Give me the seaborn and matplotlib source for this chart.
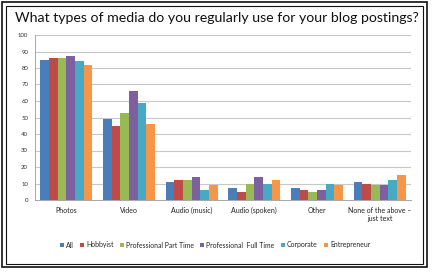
import matplotlib
matplotlib.use("Agg")
import matplotlib.pyplot as plt
from matplotlib.patches import Rectangle
import seaborn as sns
import pandas as pd

categories = ["Photos", "Video", "Audio (music)", "Audio (spoken)", "Other",
              "None of the above \u2013\njust text"]
series = ["All", "Hobbyist", "Professional Part Time", "Professional  Full Time",
          "Corporate", "Entrepreneur"]
all_vals = [85, 49, 11, 7, 7, 11]
hobbyist = [86, 45, 12, 5, 6, 10]
prof_part = [86, 53, 12, 10, 5, 9]
prof_full = [87, 66, 14, 14, 6, 9]
corporate = [84, 59, 6, 10, 10, 12]
entrepreneur = [82, 46, 9, 12, 9, 15]
yticks = list(range(0, 101, 10))

colors = ["#4A7EBB", "#BE4B48", "#98B954", "#7D60A0", "#46AAC5", "#F79646"]

rows = []
for s, vals in zip(series, [all_vals, hobbyist, prof_part, prof_full, corporate, entrepreneur]):
    for c, v in zip(categories, vals):
        rows.append({"category": c, "series": s, "value": v})
df = pd.DataFrame(rows)

sns.set_theme(style="white")
plt.rcParams["font.family"] = ["Lato", "DejaVu Sans"]

fig = plt.figure(figsize=(4.34, 2.75), dpi=100)
ax = fig.add_axes([35/434, 1-200/275, (411-35)/434, 165/275])

sns.barplot(data=df, x="category", y="value", hue="series", order=categories,
            hue_order=series, palette=colors, width=0.83, gap=0, ax=ax,
            saturation=1, edgecolor="none", linewidth=0)

ax.set_ylim(0, 100)
ax.set_yticks(yticks)
ax.set_yticklabels([str(t) for t in yticks], fontsize=4.3, color="#333333")
ax.tick_params(axis="x", labelsize=5, colors="#222222", length=0, pad=5)
ax.tick_params(axis="y", length=2, width=0.5, color="#999999", pad=3)
ax.yaxis.grid(True, color="#c8c8c8", linewidth=0.8)
ax.set_axisbelow(True)
for sp in ["top", "right"]:
    ax.spines[sp].set_visible(False)
for sp in ["left", "bottom"]:
    ax.spines[sp].set_color("#999999")
    ax.spines[sp].set_linewidth(0.6)
ax.set_xlabel("")
ax.set_ylabel("")

leg = ax.legend(loc="center", ncol=6, frameon=False, fontsize=4.95,
                handlelength=0.6, handleheight=0.6,
                handletextpad=0.3, columnspacing=0.9, borderaxespad=0)
leg.set_bbox_to_anchor((215/434, 1-245/275), transform=fig.transFigure)

fig.text(217/434, 1-18/275, "What types of media do you regularly use for your blog postings?",
         ha="center", va="center", fontsize=10.2, color="#111111")

# double frame
fig.patches.append(Rectangle((2/434, 1-267/275), 425/434, 265/275, transform=fig.transFigure,
                             fill=False, edgecolor="#111111", linewidth=1.2))
fig.patches.append(Rectangle((6/434, 1-264/275), 417/434, 258/275, transform=fig.transFigure,
                             fill=False, edgecolor="#111111", linewidth=0.8))

fig.savefig("out.png", dpi=100)
